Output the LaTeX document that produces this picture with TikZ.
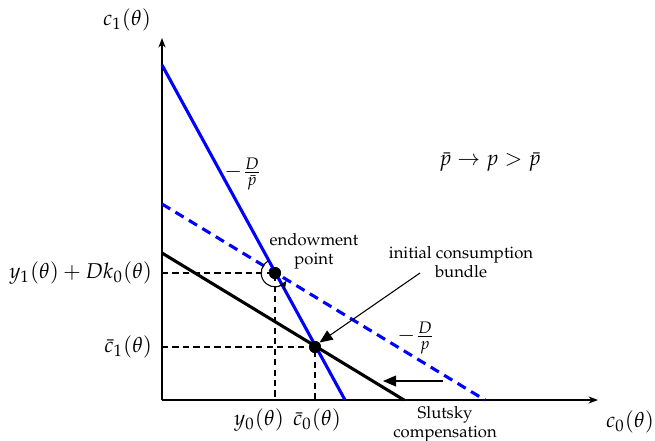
\documentclass[tikz,border=0pt]{standalone}
\usepackage[T1]{fontenc}
\usepackage{mathpazo}
\usetikzlibrary{arrows.meta}
\tikzset{
  axisline/.style={line width=0.45pt,-{Stealth[length=4pt,width=3pt]}},
  budget/.style={line width=1.3pt},
  bluesolid/.style={budget,blue},
  bluedash/.style={budget,blue,dash pattern=on 4pt off 2.6pt},
  guide/.style={line width=0.45pt,dash pattern=on 2.6pt off 1.8pt},
  dotnode/.style={circle,fill=black,inner sep=0pt,minimum size=5pt},
  bigarrow/.style={line width=0.45pt,-{Triangle[length=5.5pt,width=4.6pt]}},
  lbl/.style={font=\scriptsize,align=center,inner sep=1pt},
  mlbl/.style={font=\small,inner sep=1pt}
}
\begin{document}
\begin{tikzpicture}[x=0.42pt,y=-0.42pt]
\useasboundingbox (0,0) rectangle (655,440);
% axes
\coordinate (O) at (162,400);
\coordinate (Ytop) at (162,38);
\coordinate (Xend) at (598,400);
\draw[axisline] (O) -- (Ytop);
\draw[axisline] (O) -- (Xend);
\node[mlbl] (c1lab) at (127,20) {$c_1(\theta)$};
\node[mlbl] (c0lab) at (630,422) {$c_0(\theta)$};
% points
\node[dotnode] (E) at (275,273) {};
\node[dotnode] (C) at (315,347) {};
% guides
\coordinate (Ey) at (162,273);
\coordinate (Ex) at (275,400);
\coordinate (Cy) at (162,347);
\coordinate (Cx) at (315,400);
\draw[guide] (Ey) -- (E.center) -- (Ex);
\draw[guide] (Cy) -- (C.center) -- (Cx);
% budget lines
\coordinate (B1) at (162,65);
\coordinate (B2) at (345,400);
\coordinate (D1) at (162,204);
\coordinate (D2) at (485,400);
\coordinate (K1) at (162,253);
\coordinate (K2) at (404,400);
\draw[bluesolid] (B1) -- (B2);
\draw[bluedash] (D1) -- (D2);
\draw[budget] (K1) -- (K2);
\node[dotnode] at (E) {};
\node[dotnode] at (C) {};
% rotation arc
\draw[line width=0.45pt,-{Stealth[length=3.5pt,width=3pt]}] (E.center) ++(119:5.8pt) arc[start angle=119,end angle=326,radius=5.8pt];
% labels
\node[mlbl] (ylab) [anchor=east] at (155,273) {$y_1(\theta)+Dk_0(\theta)$};
\node[mlbl] (cblab) [anchor=east] at (155,347) {$\bar c_1(\theta)$};
\node[mlbl] (y0lab) at (259,420) {$y_0(\theta)$};
\node[mlbl] (c0blab) at (317,420) {$\bar c_0(\theta)$};
\node[mlbl] (pbarlab) at (243,174) {$-\frac{D}{\bar p}$};
\node[mlbl] (plab) at (416,338) {$-\frac{D}{p}$};
\node[mlbl] (change) at (490,162) {$\bar p \to p > \bar p$};
\node[lbl] (endow) at (314,251) {endowment\\point};
\node[lbl] (init) at (461,262) {initial consumption\\bundle};
\node[lbl] (slut) at (445,424) {Slutsky\\compensation};
% arrows
\coordinate (IA) at (420,273);
\coordinate (SA) at (443,381);
\coordinate (SB) at (383,381);
\draw[bigarrow] (IA) -- (C.north east);
\draw[bigarrow] (SA) -- (SB);
\end{tikzpicture}
\end{document}
